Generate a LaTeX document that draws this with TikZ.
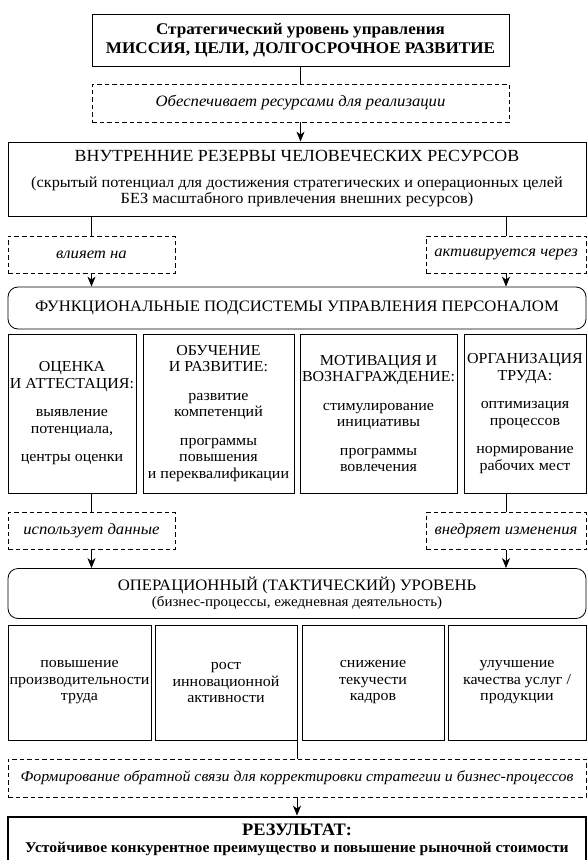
\documentclass[tikz,border=0pt]{standalone}
\usepackage{fontspec}
\setmainfont{Liberation Serif}[FakeStretch=1.05]
\usetikzlibrary{arrows.meta,positioning}

\begin{document}
\begin{tikzpicture}[x=1pt,y=-1pt,
    font=\fontsize{15.5}{16.5}\selectfont,
    box/.style={draw, line width=0.8pt, align=center, inner sep=0pt},
    cell/.style={box, font=\fontsize{15.2}{16.5}\selectfont},
    dbox/.style={box, dash pattern=on 4.5pt off 3pt, font=\fontsize{15.9}{17}\selectfont\itshape},
    rbox/.style={box, rounded corners=10pt},
    link/.style={line width=0.8pt},
    arr/.style={link, -{Stealth[length=10pt,width=8pt,inset=3pt]}}]
  \useasboundingbox (0,0) rectangle (587,860);

  % Strategic level
  \node[box, minimum width=417pt, minimum height=52pt, font=\fontsize{16.3}{19}\selectfont\bfseries]
    (strat) at (300.5,40) {Стратегический уровень управления\\МИССИЯ, ЦЕЛИ, ДОЛГОСРОЧНОЕ РАЗВИТИЕ};
  \node[dbox, minimum width=417pt, minimum height=38pt] (provide) at (300.5,103)
    {Обеспечивает ресурсами для реализации};

  % Internal reserves
  \node[box, minimum width=578pt, minimum height=74pt] (reserve) at (297,179)
    {{\fontsize{17}{17}\selectfont ВНУТРЕННИЕ РЕЗЕРВЫ ЧЕЛОВЕЧЕСКИХ РЕСУРСОВ}\\[9pt]
     (скрытый потенциал для достижения стратегических и операционных целей\\
     БЕЗ масштабного привлечения внешних ресурсов)};
  \node[dbox, minimum width=167pt, minimum height=37pt] (affects) at (91.5,254.5) {влияет на};
  \node[dbox, minimum width=160pt, minimum height=37pt] (activ) at (506,254.5) {активируется через};

  % Functional subsystems
  \node[rbox, minimum width=578pt, minimum height=42pt, font=\fontsize{15.9}{17}\selectfont] (subsys) at (297,308)
    {ФУНКЦИОНАЛЬНЫЕ ПОДСИСТЕМЫ УПРАВЛЕНИЯ ПЕРСОНАЛОМ};
  \node[cell, minimum width=128pt, minimum height=159pt] (assess) at (72,413.5)
    {ОЦЕНКА\\И АТТЕСТАЦИЯ:\\[12pt]выявление\\потенциала,\\[12pt]центры оценки};
  \node[cell, minimum width=151pt, minimum height=159pt] (train) at (218.5,413.5)
    {ОБУЧЕНИЕ\\И РАЗВИТИЕ:\\[12pt]развитие\\компетенций\\[12pt]программы\\повышения\\и переквалификации};
  \node[cell, minimum width=157pt, minimum height=159pt] (motiv) at (378.5,413.5)
    {МОТИВАЦИЯ И\\ВОЗНАГРАЖДЕНИЕ:\\[12pt]стимулирование\\инициативы\\[12pt]программы\\вовлечения};
  \node[cell, minimum width=122pt, minimum height=159pt] (organ) at (525,413.5)
    {ОРГАНИЗАЦИЯ\\ТРУДА:\\[12pt]оптимизация\\процессов\\[12pt]нормирование\\рабочих мест};
  \node[dbox, minimum width=167pt, minimum height=37pt] (usedata) at (91.5,531) {использует данные};
  \node[dbox, minimum width=160pt, minimum height=37pt] (change) at (506,531) {внедряет изменения};

  % Operational level
  \node[rbox, minimum width=578pt, minimum height=50pt, font=\fontsize{15.9}{17}\selectfont] (oper) at (297,593.5)
    {ОПЕРАЦИОННЫЙ (ТАКТИЧЕСКИЙ) УРОВЕНЬ\\[-1pt]
     {\fontsize{14.3}{16}\selectfont (бизнес-процессы, ежедневная деятельность)}};
  \node[cell, minimum width=143pt, minimum height=115pt] (prod) at (79.5,682.5)
    {повышение\\производительности\\труда};
  \node[cell, minimum width=142pt, minimum height=115pt] (innov) at (226,682.5)
    {рост\\инновационной\\активности};
  \node[cell, minimum width=142pt, minimum height=115pt] (turn) at (373,682.5)
    {снижение\\текучести\\кадров};
  \node[cell, minimum width=138pt, minimum height=115pt] (qual) at (517,682.5)
    {улучшение\\качества услуг /\\продукции};
  \node[dbox, minimum width=578pt, minimum height=38pt, font=\fontsize{15.1}{17}\selectfont\itshape]
    (feedback) at (297,778)
    {Формирование обратной связи для корректировки стратегии и бизнес-процессов};

  % Result
  \node[box, line width=2.8pt, minimum width=578pt, minimum height=46pt,
    font=\fontsize{14.9}{17}\selectfont\bfseries] (result) at (297,840)
    {{\fontsize{17.5}{17}\selectfont РЕЗУЛЬТАТ:}\\Устойчивое конкурентное преимущество и повышение рыночной стоимости};

  % Connectors
  \draw[link] (strat) -- (provide);
  \draw[arr] (provide) -- (provide.south |- reserve.north);
  \foreach \lbl in {affects,activ} {
    \draw[link] (reserve.south -| \lbl.north) -- (\lbl.north);
    \draw[arr] (\lbl.south) -- (\lbl.south |- subsys.north);
  }
  \draw[link] (assess.south -| usedata.north) -- (usedata.north);
  \draw[link] (organ.south -| change.north) -- (change.north);
  \foreach \lbl in {usedata,change}
    \draw[arr] (\lbl.south) -- (\lbl.south |- oper.north);
  \draw[link] (innov.south -| feedback.north) -- (feedback.north);
  \draw[arr] (feedback.south) -- (feedback.south |- result.north);
\end{tikzpicture}
\end{document}
